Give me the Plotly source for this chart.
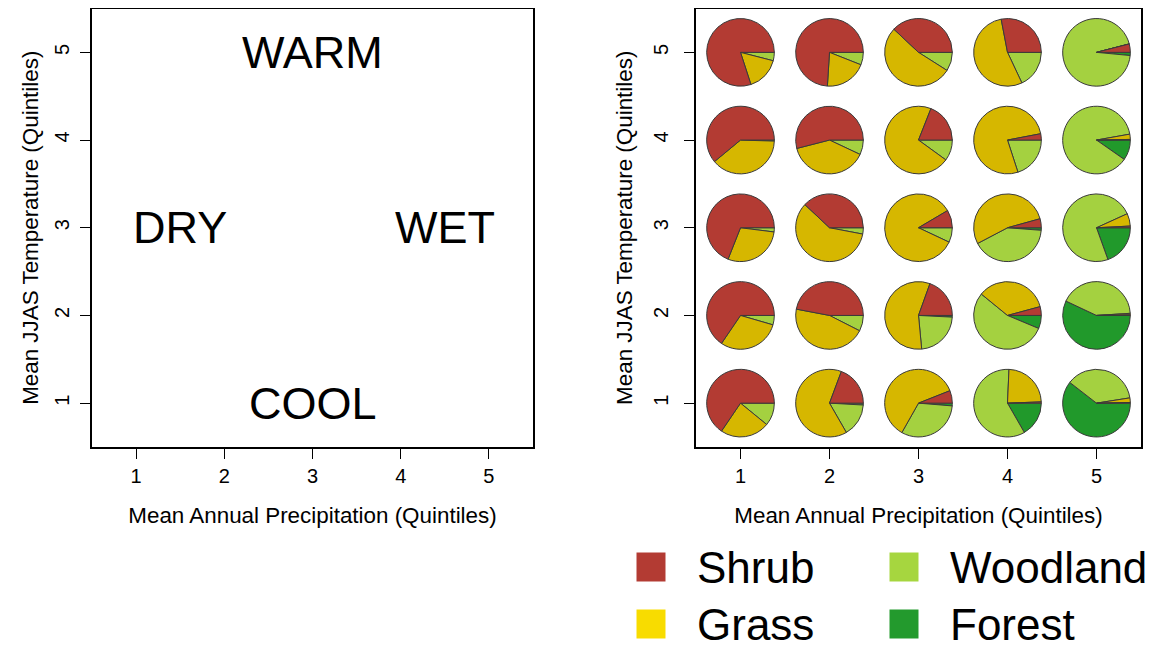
import plotly.graph_objects as go

# ---- data ----
categories = ["Shrub", "Grass", "Woodland", "Forest"]
precip = [1, 2, 3, 4, 5] * 5
temp = [5] * 5 + [4] * 5 + [3] * 5 + [2] * 5 + [1] * 5
shrub = [0.80, 0.74, 0.38, 0.28, 0.04,
         0.61, 0.54, 0.19, 0.03, 0.003,
         0.69, 0.38, 0.085, 0.043, 0.008,
         0.655, 0.47, 0.195, 0.042, 0.003,
         0.655, 0.193, 0.06, 0.006, 0.003]
grass = [0.16, 0.20, 0.53, 0.54, 0.0,
         0.385, 0.39, 0.71, 0.77, 0.025,
         0.29, 0.59, 0.845, 0.534, 0.06,
         0.30, 0.455, 0.57, 0.349, 0.007,
         0.236, 0.64, 0.608, 0.237, 0.022]
woodland = [0.04, 0.06, 0.09, 0.18, 0.945,
            0.005, 0.07, 0.10, 0.20, 0.875,
            0.02, 0.03, 0.07, 0.411, 0.737,
            0.045, 0.075, 0.227, 0.546, 0.42,
            0.109, 0.158, 0.319, 0.59, 0.37]
forest = [0.0, 0.0, 0.0, 0.0, 0.015,
          0.0, 0.0, 0.0, 0.0, 0.097,
          0.0, 0.0, 0.0, 0.012, 0.195,
          0.0, 0.0, 0.008, 0.063, 0.57,
          0.0, 0.009, 0.013, 0.167, 0.605]
region_labels = ["WARM", "DRY", "WET", "COOL"]
region_x = [3, 1.5, 4.5, 3]
region_y = [5, 3, 3, 1]
ticks = [1, 2, 3, 4, 5]

pie_colors = ["#B33B33", "#D6B700", "#A4D140", "#21992B"]
legend_colors = ["#B33B33", "#F8DC00", "#A6D63F", "#239A2D"]

W, H = 1158, 646
OFF = 8  # default page (body) margin of the browser
FONT = "Liberation Sans, Arial, sans-serif"


def px_x(p):
    return (p - OFF) / W


def px_y(p):
    return 1 - (p - OFF) / H


xr = [0.5, 5.5]
yr = [0.5, 5.5]
dom_x1 = [px_x(92), px_x(533)]
dom_x2 = [px_x(696), px_x(1141)]
dom_y = [px_y(447), px_y(8.5)]
pie_r = 0.38  # in x data units

fig = go.Figure()


def to_paper(v, r, d):
    return d[0] + (v - r[0]) / (r[1] - r[0]) * (d[1] - d[0])


rev_labels = categories[::-1]
rev_colors = pie_colors[::-1]
for i in range(len(precip)):
    cx = to_paper(precip[i], xr, dom_x2)
    cy = to_paper(temp[i], yr, dom_y)
    rw = pie_r / (xr[1] - xr[0]) * (dom_x2[1] - dom_x2[0])
    rh = rw * W / H
    vals = [shrub[i], grass[i], woodland[i], forest[i]][::-1]
    # clockwise listing of the reversed order == counter-clockwise order
    # Shrub, Grass, Woodland, Forest starting at 3 o'clock
    fig.add_trace(go.Pie(
        values=vals, labels=rev_labels, sort=False,
        direction="clockwise", rotation=90,
        marker=dict(colors=rev_colors, line=dict(color="#3a3a3a", width=1)),
        textinfo="none", hoverinfo="label+percent", showlegend=False,
        domain=dict(x=[cx - rw, cx + rw], y=[cy - rh, cy + rh]),
    ))

fig.add_trace(go.Scatter(x=[], y=[], xaxis="x", yaxis="y", showlegend=False))
fig.add_trace(go.Scatter(x=[], y=[], xaxis="x2", yaxis="y2", showlegend=False))

axis_common = dict(
    range=xr, tickvals=ticks, ticks="outside", ticklen=10, tickwidth=1,
    tickcolor="black", showline=True, mirror=True, linecolor="black",
    linewidth=1.5, showgrid=False, zeroline=False,
    tickfont=dict(family=FONT, size=20, color="black"),
)
title_font = dict(family=FONT, size=22.4, color="black")
xtitle = dict(text="Mean Annual Precipitation (Quintiles)",
              font=title_font, standoff=22)
ytitle_text = "Mean JJAS Temperature (Quintiles)"

fig.update_layout(
    width=W, height=H,
    margin=dict(l=0, r=0, t=0, b=0),
    paper_bgcolor="white", plot_bgcolor="white",
    xaxis=dict(domain=dom_x1, anchor="y", title=xtitle, **axis_common),
    yaxis=dict(domain=dom_y, anchor="x", tickangle=-90, ticklabelstandoff=3,
               title=dict(text=ytitle_text, font=title_font, standoff=6),
               **axis_common),
    xaxis2=dict(domain=dom_x2, anchor="y2", title=xtitle, **axis_common),
    yaxis2=dict(domain=dom_y, anchor="x2", tickangle=-90, ticklabelstandoff=8,
                title=dict(text=ytitle_text, font=title_font, standoff=11),
                **axis_common),
    showlegend=False,
)

for lab, x, y in zip(region_labels, region_x, region_y):
    fig.add_annotation(x=x, y=y, xref="x", yref="y", text=lab, showarrow=False,
                       font=dict(family=FONT, size=45, color="black"))

# legend (two columns)
leg_x = [px_x(651), px_x(904)]
leg_y = [px_y(567), px_y(624)]
sq_w = 29 / W
sq_h = 29 / H
for k, cat in enumerate(categories):
    col = k // 2
    row = k % 2
    lx = leg_x[col]
    ly = leg_y[row]
    fig.add_shape(type="rect", xref="paper", yref="paper",
                  x0=lx - sq_w / 2, x1=lx + sq_w / 2,
                  y0=ly - sq_h / 2, y1=ly + sq_h / 2,
                  fillcolor=legend_colors[k], line=dict(width=0))
    fig.add_annotation(x=lx + 44 / W, y=ly, xref="paper", yref="paper",
                       text=cat, showarrow=False, xanchor="left",
                       yanchor="middle",
                       font=dict(family=FONT, size=44, color="black"))

fig.write_html("out.html")
